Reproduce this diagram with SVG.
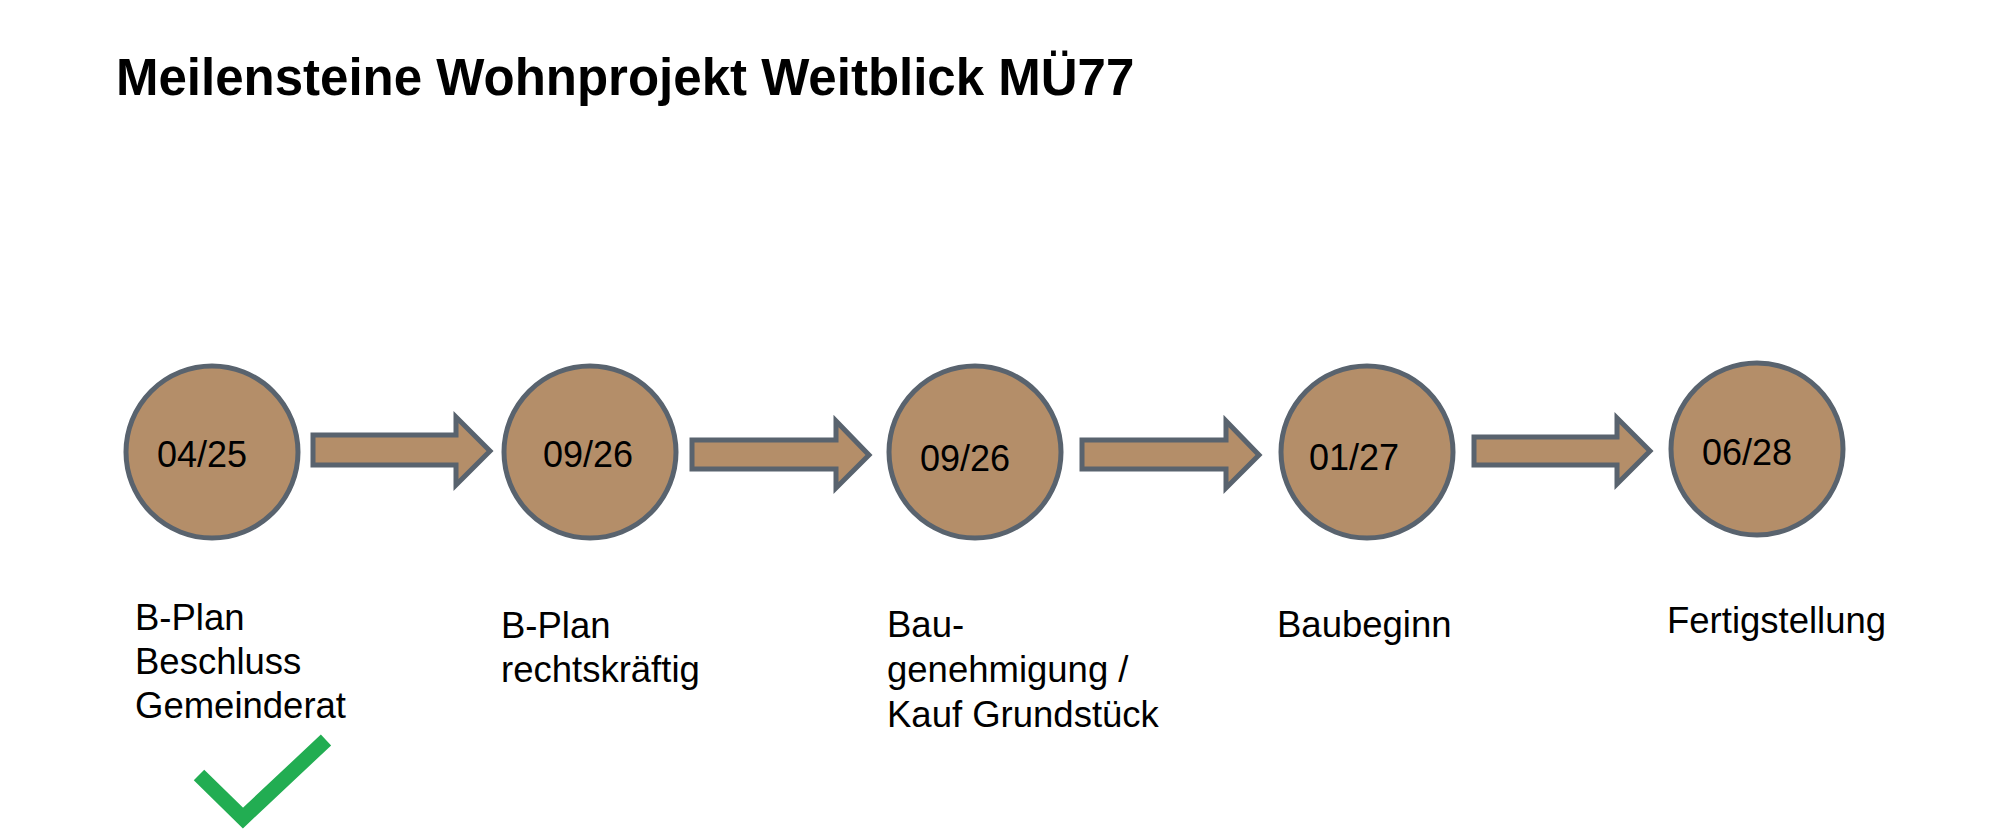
<svg xmlns="http://www.w3.org/2000/svg" width="2000" height="837" viewBox="0 0 2000 837">
<style>
text{font-family:"Liberation Sans",Arial,sans-serif;fill:#000}
.title{font-size:51px;font-weight:bold}
.date{font-size:36px;text-anchor:middle}
.lbl{font-size:36.5px}
.node circle{fill:#B48E69;stroke:#59636E;stroke-width:5}
.arr{fill:#B48E69;stroke:#59636E;stroke-width:5;stroke-linejoin:miter}
</style>
<rect width="2000" height="837" fill="#fff"/>
<text class="title" x="116" y="95">Meilensteine Wohnprojekt Weitblick MÜ77</text>
<g id="connectors">
<polygon class="arr" points="313,435 456,435 456,417 490,451 456,485 456,465 313,465"/>
<polygon class="arr" points="692,440 836,440 836,421 869,455 836,488 836,469 692,469"/>
<polygon class="arr" points="1082,440 1226,440 1226,421 1259,455 1226,488 1226,469 1082,469"/>
<polygon class="arr" points="1474,437 1617,437 1617,418 1650,451 1617,484 1617,465 1474,465"/>
</g>
<g id="n1" class="node">
<circle cx="212" cy="452" r="86"/>
<text class="date" x="202" y="467">04/25</text>
<text class="lbl" x="135" y="630">B-Plan</text>
<text class="lbl" x="135" y="674">Beschluss</text>
<text class="lbl" x="135" y="718">Gemeinderat</text>
</g>
<g id="n2" class="node">
<circle cx="590" cy="452" r="86"/>
<text class="date" x="588" y="467">09/26</text>
<text class="lbl" x="501" y="638">B-Plan</text>
<text class="lbl" x="501" y="682">rechtskräftig</text>
</g>
<g id="n3" class="node">
<circle cx="975" cy="452" r="86"/>
<text class="date" x="965" y="471">09/26</text>
<text class="lbl" x="887" y="637">Bau-</text>
<text class="lbl" x="887" y="682">genehmigung /</text>
<text class="lbl" x="887" y="727">Kauf Grundstück</text>
</g>
<g id="n4" class="node">
<circle cx="1367" cy="452" r="86"/>
<text class="date" x="1354" y="470">01/27</text>
<text class="lbl" x="1277" y="637">Baubeginn</text>
</g>
<g id="n5" class="node">
<circle cx="1757" cy="449" r="86"/>
<text class="date" x="1747" y="465">06/28</text>
<text class="lbl" x="1667" y="633">Fertigstellung</text>
</g>
<g id="check">
<polyline points="199,775 243,818 326,740" fill="none" stroke="#22AD52" stroke-width="15" stroke-linejoin="miter"/>
</g>
</svg>
